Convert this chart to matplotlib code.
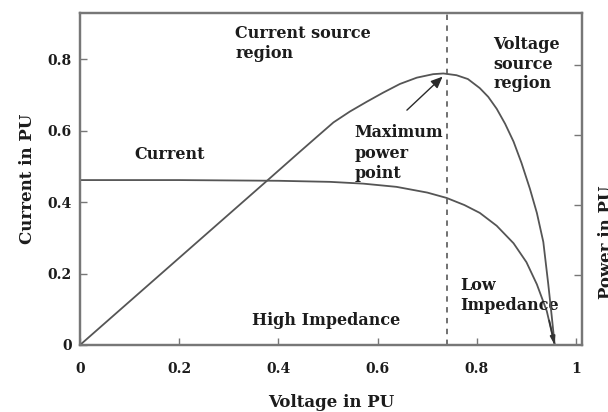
import matplotlib
matplotlib.use("Agg")
import matplotlib.pyplot as plt

# ---- data ----
voltage_current = [0.0, 0.2, 0.4, 0.504, 0.571, 0.638, 0.70, 0.739, 0.775, 0.806, 0.84,
                   0.874, 0.90, 0.921, 0.941, 0.957]
current_pu      = [0.462, 0.462, 0.460, 0.457, 0.452, 0.443, 0.427, 0.412, 0.392, 0.370, 0.334,
                   0.285, 0.232, 0.170, 0.095, 0.0]

voltage_power = [0.0, 0.377, 0.44, 0.477, 0.511, 0.544, 0.578, 0.611, 0.645, 0.679, 0.712,
                 0.7325, 0.759, 0.782, 0.806, 0.823, 0.84, 0.857, 0.874, 0.89, 0.907, 0.921,
                 0.934, 0.944, 0.951, 0.957]
power_pu      = [0.0, 0.470, 0.549, 0.595, 0.637, 0.668, 0.696, 0.722, 0.747, 0.765, 0.775,
                 0.777, 0.772, 0.761, 0.735, 0.710, 0.676, 0.633, 0.582, 0.521, 0.447, 0.378,
                 0.295, 0.174, 0.082, 0.0]

mpp_voltage = 0.740
mpp_power = 0.777

x_ticks = [0, 0.2, 0.4, 0.6, 0.8, 1]
x_tick_labels = ["0", "0.2", "0.4", "0.6", "0.8", "1"]
y_ticks = [0, 0.2, 0.4, 0.6, 0.8]
y_tick_labels = ["0", "0.2", "0.4", "0.6", "0.8"]
power_ticks = [0.2, 0.4, 0.6, 0.8]

FONT = "DejaVu Serif"
TXT = "#1c1c1c"
LINE = "#555555"
SPINE = "#777777"

fig = plt.figure(figsize=(6.08, 4.12), dpi=100)
ax = fig.add_axes([80/608, 1 - 345/412, 502/608, 332/412])
ax.set_xlim(0, 1.012)
ax.set_ylim(0, 0.93)

ax2 = ax.twinx()
ax2.set_ylim(0, 0.95)

# curves
ax.plot(voltage_current, current_pu, color=LINE, lw=1.3)
ax2.plot(voltage_power, power_pu, color=LINE, lw=1.3)

# MPP dashed line
ax.axvline(mpp_voltage, color="#666666", lw=1.3, ls=(0, (3, 3)))

# arrow to MPP
ax2.annotate("", xy=(0.731, 0.768), xytext=(0.659, 0.672),
             arrowprops=dict(arrowstyle="-|>,head_length=0.7,head_width=0.3",
                             color="#2a2a2a", lw=1.0, shrinkA=0, shrinkB=0))
# arrow at curve end
ax2.annotate("", xy=(0.957, 0.0), xytext=(0.946, 0.07),
             arrowprops=dict(arrowstyle="-|>,head_length=0.5,head_width=0.15",
                             color="#333333", lw=1.2, shrinkA=0, shrinkB=0))

tkw = dict(fontfamily=FONT, fontweight="bold", color=TXT, fontsize=11.5)
ax.text(0.3125, 0.896, "Current source\nregion", va="top", ha="left", linespacing=1.25, **tkw)
ax.text(0.833, 0.865, "Voltage\nsource\nregion", va="top", ha="left", linespacing=1.2, **tkw)
ax.text(0.554, 0.618, "Maximum\npower\npoint", va="top", ha="left", linespacing=1.25, **tkw)
ax.text(0.109, 0.557, "Current", va="top", ha="left", **tkw)
ax.text(0.347, 0.092, "High Impedance", va="top", ha="left", **tkw)
ax.text(0.766, 0.19, "Low\nImpedance", va="top", ha="left", linespacing=1.25, **tkw)

# ticks
ax.set_xticks(x_ticks)
ax.set_xticklabels(x_tick_labels)
ax.set_yticks(y_ticks)
ax.set_yticklabels(y_tick_labels)
ax.tick_params(direction="in", length=5, width=1.0, color=SPINE, pad=12,
               labelsize=10, labelcolor=TXT)
ax.tick_params(axis="y", pad=6)
for lab in ax.get_xticklabels() + ax.get_yticklabels():
    lab.set_fontfamily(FONT)
    lab.set_fontweight("bold")

ax2.set_yticks(power_ticks)
ax2.set_yticklabels([])
ax2.tick_params(direction="in", length=6, width=1.0, color=SPINE)

for a in (ax, ax2):
    for s in a.spines.values():
        s.set_color(SPINE)
        s.set_linewidth(1.6)

ax.set_xlabel("Voltage in PU", fontfamily=FONT, fontweight="bold", fontsize=12,
              color=TXT, labelpad=13)
ax.set_ylabel("Current in PU", fontfamily=FONT, fontweight="bold", fontsize=12,
              color=TXT, labelpad=8)
fig.text(598/608, 170/412, "Power in PU", rotation=90, ha="left", va="center",
         fontfamily=FONT, fontweight="bold", fontsize=12, color=TXT)

fig.savefig("out.png", dpi=100)
